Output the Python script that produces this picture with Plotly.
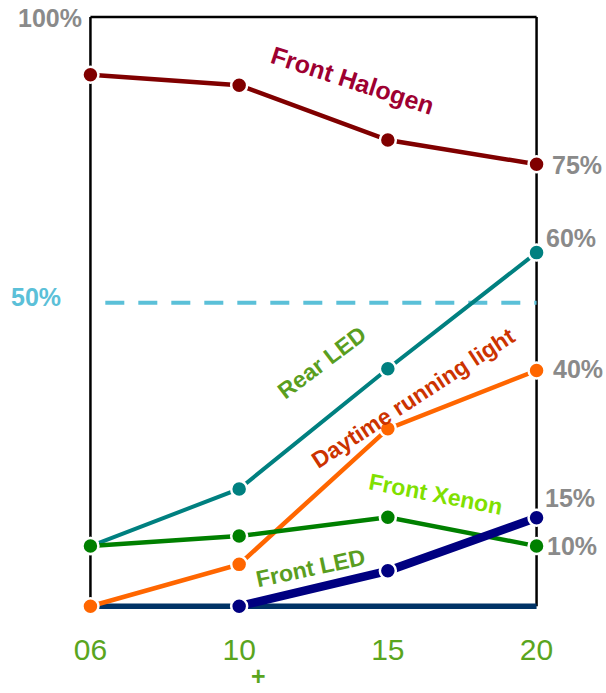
import plotly.graph_objects as go

years = ["06", "10", "15", "20"]
xpos = [0, 1, 2, 3]

front_halogen = [90.2, 88.4, 79.1, 75.0]
rear_led = [10.2, 19.9, 40.3, 60.0]
daytime = [0.0, 7.1, 30.1, 40.0]
front_xenon = [10.2, 11.9, 15.1, 10.2]
front_led = [None, 0.0, 6.0, 15.0]
baseline = [0.0, 0.0, 0.0, 0.0]
threshold_x = [0.1, 3.0]
threshold_y = [51.5, 51.5]

right_labels = ["75%", "60%", "40%", "15%", "10%"]
right_label_y = [74.9, 62.5, 40.2, 18.3, 10.2]
right_label_x = [3.09, 3.05, 3.1, 3.04, 3.06]

FONT = "Arial, Liberation Sans, sans-serif"
GREEN_TXT = "#5aa51e"

XR = [-0.05, 3.05]
YR = [-2.0, 101.0]

fig = go.Figure()

fig.add_trace(go.Scatter(x=xpos, y=baseline, mode="lines",
                         line=dict(color="#003366", width=5.5), cliponaxis=False))
fig.add_trace(go.Scatter(x=threshold_x, y=threshold_y, mode="lines",
                         line=dict(color="#5bc0d8", width=4, dash="19px,14px"), cliponaxis=False))

series = [
    (front_halogen, "#800000", 4.5),
    (rear_led, "#008080", 4),
    (daytime, "#ff6600", 4.5),
    (front_xenon, "#008000", 4.5),
    (front_led, "#000080", 8.5),
]
for vals, col, w in series:
    fig.add_trace(go.Scatter(
        x=xpos, y=vals, mode="lines+markers",
        line=dict(color=col, width=w),
        marker=dict(color=col, size=16, line=dict(color="white", width=2.5)),
        cliponaxis=False,
    ))

# frame
for x0, x1, y0, y1 in [(0, 0, 0, 100), (3, 3, 0, 100), (0, 3, 100, 100)]:
    fig.add_shape(type="line", x0=x0, x1=x1, y0=y0, y1=y1, xref="x", yref="y",
                  line=dict(color="black", width=2.5), layer="below")

ann = []
def lab(text, x, y, color, size=21, angle=0, xanchor="center", bold=True, yanchor="middle"):
    px = (x - XR[0]) / (XR[1] - XR[0])
    py = (y - YR[0]) / (YR[1] - YR[0])
    ann.append(dict(text=("<b>%s</b>" % text) if bold else text,
                    x=px, y=py, xref="paper", yref="paper",
                    showarrow=False, textangle=angle, xanchor=xanchor, yanchor=yanchor,
                    font=dict(family=FONT, size=size, color=color)))

lab("Front Halogen", 1.76, 89.3, "#9e0031", 25, 18)
lab("Rear LED", 1.56, 41.4, "#5a9e1f", 23, -37)
lab("Daytime running light", 2.17, 35.3, "#cc3300", 23, -33)
lab("Front Xenon", 2.32, 19.0, "#80e000", 23, 11)
lab("Front LED", 1.48, 6.5, "#5a9e1f", 23, -12)

for t, y, x in zip(right_labels, right_label_y, right_label_x):
    lab(t, x, y, "#8a8a8a", 25, 0, "left")

lab("100%", -0.045, 99.8, "#8a8a8a", 25, 0, "right")
lab("50%", -0.55, 52.4, "#5bc0d8", 25, 0, "left")
lab("+", 1.13, -11.9, GREEN_TXT, 25, 0, "center")

fig.update_layout(
    width=606, height=693,
    margin=dict(l=82.55, r=61.55, t=11.1, b=75.2),
    plot_bgcolor="white", paper_bgcolor="white",
    showlegend=False,
    annotations=ann,
    xaxis=dict(range=XR, tickmode="array", tickvals=xpos, ticktext=years,
               showgrid=False, zeroline=False, showline=False,
               tickfont=dict(family=FONT, size=30, color=GREEN_TXT),
               ticks="", ticklabelstandoff=11),
    yaxis=dict(range=YR, showgrid=False, zeroline=False, showline=False,
               showticklabels=False, ticks=""),
)

fig.write_html("out.html")
